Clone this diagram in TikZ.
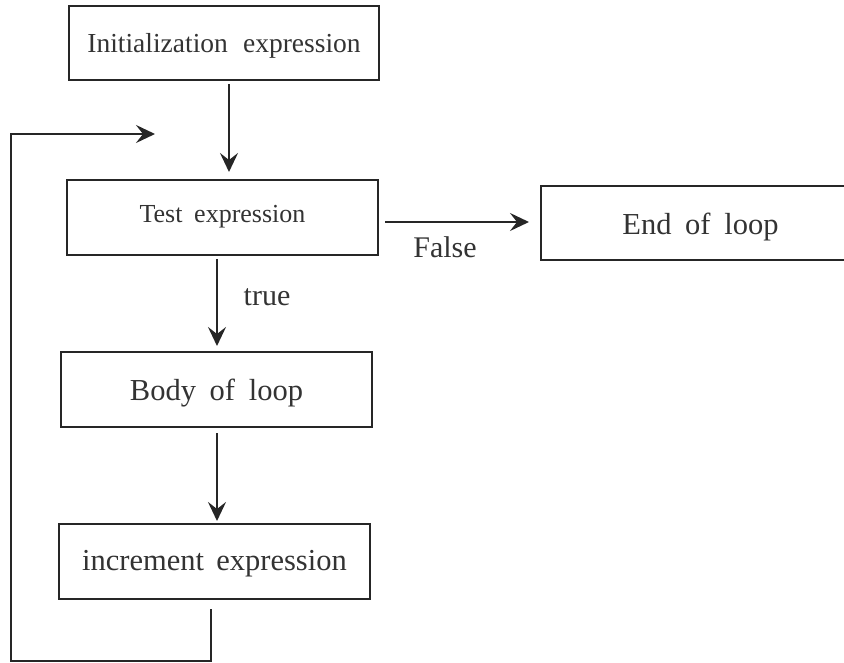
\documentclass[tikz,border=0pt]{standalone}
\usepackage{fontspec}
\setmainfont{Liberation Serif}
\usetikzlibrary{arrows.meta}
\newcommand\mywsp[1]{\spaceskip=#1\relax}
\begin{document}
\begin{tikzpicture}[x=1pt,y=-1pt,
  box/.style={draw=black!85, line width=2pt, rectangle, inner sep=0pt, text=black!80, text depth=0pt},
  arr/.style={draw=black!85, line width=2pt, -{Stealth[length=19pt,width=18pt,inset=7pt]}},
  lbl/.style={inner sep=0pt, text=black!80, font={\fontsize{30}{36}\selectfont}}
]
\useasboundingbox (0,0) rectangle (844,663);
\clip (0,0) rectangle (844,663);
\node[box, minimum width=310pt, minimum height=74pt, text height=20pt,
  font={\fontsize{27.5}{33}\selectfont\mywsp{0.55em}}] (init) at (224,43) {Initialization expression};
\node[box, minimum width=311pt, minimum height=75pt, text height=11pt,
  font={\fontsize{26}{31}\selectfont\mywsp{0.45em}}] (test) at (222.5,217.5) {Test expression};
\node[box, minimum width=319pt, minimum height=74pt, text height=24pt,
  font={\fontsize{30.5}{36}\selectfont\mywsp{0.45em}}] (end) at (700.5,223) {End of loop};
\node[box, minimum width=311pt, minimum height=75pt, text height=21pt,
  font={\fontsize{30.5}{36}\selectfont\mywsp{0.45em}}] (body) at (216.5,389.5) {Body of loop};
\node[box, minimum width=311pt, minimum height=75pt, text height=17pt,
  font={\fontsize{30.5}{36}\selectfont\mywsp{0.4em}}] (inc) at (214.5,561.5) {increment expression};
\node[lbl] (false) at (445,247) {False};
\node[lbl] (true) at (267,297) {true};
\coordinate (lb) at (11,661);
\coordinate (lt) at (11,134);
\coordinate (le) at (155,134);
\draw[arr, shorten <=3pt, shorten >=7pt] ([xshift=5pt]init.south) -- ([xshift=6.5pt]test.north);
\draw[arr, shorten <=3pt, shorten >=5pt] ([xshift=-5.5pt]test.south) -- ([xshift=0.5pt]body.north);
\draw[arr, shorten <=5pt, shorten >=2pt] ([xshift=0.5pt]body.south) -- ([xshift=2.5pt]inc.north);
\draw[arr, shorten <=6pt, shorten >=11pt] ([yshift=-4.5pt]test.east) -- ([yshift=1pt]end.west);
\draw[arr, line join=miter, shorten <=9pt] ([xshift=-3.5pt]inc.south) |- (lb) -- (lt) -- (le);
\end{tikzpicture}
\end{document}
